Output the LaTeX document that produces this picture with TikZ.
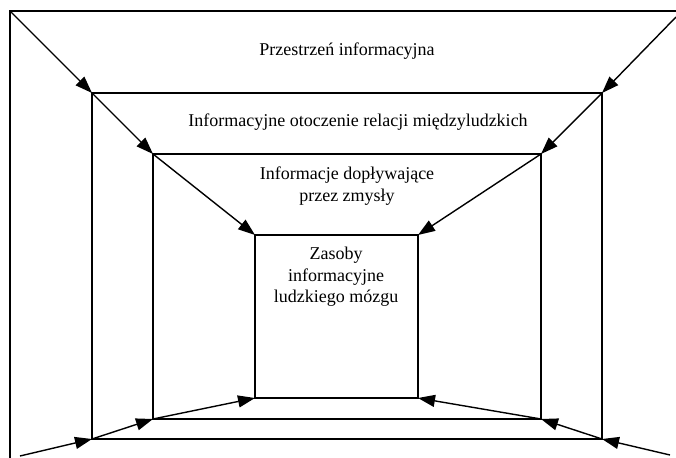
\documentclass[tikz,border=0pt]{standalone}
\usepackage{fontspec}
\setmainfont{Liberation Serif}
\usetikzlibrary{arrows.meta}
\begin{document}
\begin{tikzpicture}[x=1pt,y=-1pt,
  frame/.style={line width=1.4pt},
  flow/.style={line width=1.4pt,-{Triangle[length=17pt,width=12pt]}},
  lbl/.style={font=\fontsize{18}{21.5}\selectfont,align=center,inner sep=0pt}]
\useasboundingbox (0,0) rectangle (676,457);
\clip (0,0) rectangle (676,457);
\fill[white] (0,0) rectangle (676,457);
% corners
\coordinate (o1) at (10,11);   \coordinate (o2) at (676,17);
\coordinate (o3) at (20,456);  \coordinate (o4) at (670,455);
\coordinate (a1) at (92,93);   \coordinate (a2) at (602,93);
\coordinate (a3) at (92,439);  \coordinate (a4) at (602,439);
\coordinate (b1) at (153,154); \coordinate (b2) at (541,154);
\coordinate (b3) at (153,419); \coordinate (b4) at (541,419);
\coordinate (c1) at (255,235); \coordinate (c2) at (418,235);
\coordinate (c3) at (255,398); \coordinate (c4) at (418,398);
% rectangles
\draw[frame] (10,11) rectangle (700,480);
\draw[frame] (a1) rectangle (a4);
\draw[frame] (b1) rectangle (b4);
\draw[frame] (c1) rectangle (c4);
% arrows
\draw[flow] (o1) -- (a1); \draw[flow] (a1) -- (b1); \draw[flow] (b1) -- (c1);
\draw[flow] (o2) -- (a2); \draw[flow] (a2) -- (b2); \draw[flow] (b2) -- (c2);
\draw[flow] (o3) -- (a3); \draw[flow] (a3) -- (b3); \draw[flow] (b3) -- (c3);
\draw[flow] (o4) -- (a4); \draw[flow] (a4) -- (b4); \draw[flow] (b4) -- (c4);
% labels
\node[lbl] (t1) at (347,51) {Przestrzeń informacyjna};
\node[lbl] (t2) at (358,122) {Informacyjne otoczenie relacji międzyludzkich};
\node[lbl] (t3) at (347,186) {Informacje dopływające\\przez zmysły};
\node[lbl] (t4) at (336,277) {Zasoby\\informacyjne\\ludzkiego mózgu};
\end{tikzpicture}
\end{document}
